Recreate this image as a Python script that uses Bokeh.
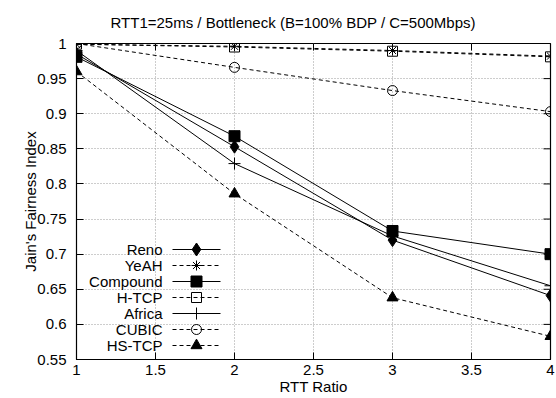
from bokeh.plotting import figure
from bokeh.models import Range1d, FixedTicker
from bokeh.embed import file_html
from bokeh.resources import INLINE
from bokeh.core.properties import value

# ---- data ----
rtt_ratio = [1, 2, 3, 4]
reno = [0.985, 0.853, 0.720, 0.641]
yeah = [0.999, 0.996, 0.990, 0.982]
compound = [0.981, 0.868, 0.733, 0.700]
htcp = [0.999, 0.995, 0.989, 0.981]
africa = [0.990, 0.829, 0.726, 0.655]
cubic = [1.000, 0.966, 0.933, 0.903]
hstcp = [0.960, 0.786, 0.638, 0.583]

series_names = ["Reno", "YeAH", "Compound", "H-TCP", "Africa", "CUBIC", "HS-TCP"]

x_ticks = [1, 1.5, 2, 2.5, 3, 3.5, 4]
x_tick_labels = ["1", "1.5", "2", "2.5", "3", "3.5", "4"]
y_ticks = [0.55, 0.6, 0.65, 0.7, 0.75, 0.8, 0.85, 0.9, 0.95, 1.0]
y_tick_labels = ["0.55", "0.6", "0.65", "0.7", "0.75", "0.8", "0.85", "0.9", "0.95", "1"]

title_text = "RTT1=25ms / Bottleneck (B=100% BDP / C=500Mbps)"
x_label = "RTT Ratio"
y_label = "Jain's Fairness Index"

FONT = "Liberation Sans"
FS = "15px"

# style per series: (dash, marker, filled, size)
styles = {
    "Reno": ("solid", "diamond", True, 13),
    "YeAH": ("4 3", "asterisk", False, 10),
    "Compound": ("solid", "square", True, 11),
    "H-TCP": ("4 3", "square", False, 10),
    "Africa": ("solid", "cross", False, 12),
    "CUBIC": ("4 3", "circle", False, 10),
    "HS-TCP": ("4 3", "triangle", True, 11),
}
values = {"Reno": reno, "YeAH": yeah, "Compound": compound, "H-TCP": htcp,
          "Africa": africa, "CUBIC": cubic, "HS-TCP": hstcp}

XMIN, XMAX, YMIN, YMAX = 1, 4, 0.55, 1.0
W, H = 556, 398
BL, BR, BT, BB = 76, 6, 43, 39

p = figure(width=W, height=H, output_backend="svg", toolbar_location=None,
           x_range=Range1d(XMIN, XMAX), y_range=Range1d(YMIN, YMAX),
           min_border_left=BL, min_border_right=BR, min_border_top=BT, min_border_bottom=BB,
           title=title_text)
p.title.align = "left"
p.title.offset = 34
p.title.vertical_align = "top"
p.title.standoff = 22
p.title.text_font = FONT
p.title.text_font_size = FS
p.title.text_font_style = "normal"
p.title.text_color = "black"

p.outline_line_color = "black"
p.outline_line_width = 1.2
p.background_fill_color = "white"
p.border_fill_color = "white"

frame_w = W - BL - BR
frame_h = H - BT - BB
def px_to_x(px):
    return XMIN + (px - BL) / frame_w * (XMAX - XMIN)
def py_to_y(py):
    return YMAX - (py - BT) / frame_h * (YMAX - YMIN)

xt = FixedTicker(ticks=x_ticks)
yt = FixedTicker(ticks=y_ticks)

main_axes = list(p.below) + list(p.left)
for ax in p.below:
    ax.ticker = xt
    ax.major_label_overrides = {t: l for t, l in zip(x_ticks, x_tick_labels)}
    ax.axis_label = x_label
    ax.axis_label_standoff = 0
    ax.major_label_standoff = 5
for ax in p.left:
    ax.ticker = yt
    ax.major_label_overrides = {t: l for t, l in zip(y_ticks, y_tick_labels)}
    ax.axis_label = y_label
    ax.axis_label_standoff = -5
    ax.major_label_standoff = 10

for ax in main_axes:
    ax.major_tick_in = 7
    ax.major_tick_out = 0
    ax.minor_tick_in = 0
    ax.minor_tick_out = 0
    ax.axis_line_color = "black"
    ax.major_tick_line_color = "black"
    ax.major_label_text_font = FONT
    ax.major_label_text_font_size = FS
    ax.major_label_text_color = "black"
    ax.axis_label_text_font = FONT
    ax.axis_label_text_font_size = FS
    ax.axis_label_text_font_style = "normal"
    ax.axis_label_text_color = "black"

for g, t in ((p.xgrid, xt), (p.ygrid, yt)):
    g.ticker = t
    g.grid_line_color = "#9a9a9a"
    g.grid_line_dash = "1 2"
    g.grid_line_width = 1

# mirrored tick marks on top and right borders (inward)
TICK = 7
dx = TICK / frame_w * (XMAX - XMIN)
dy = TICK / frame_h * (YMAX - YMIN)
p.segment(x0=x_ticks, y0=[YMAX] * len(x_ticks), x1=x_ticks, y1=[YMAX - dy] * len(x_ticks),
          line_color="black", line_width=1)
p.segment(x0=[XMAX] * len(y_ticks), y0=y_ticks, x1=[XMAX - dx] * len(y_ticks), y1=y_ticks,
          line_color="black", line_width=1)

# ---- series ----
for name in series_names:
    dash, marker, filled, size = styles[name]
    ys = values[name]
    p.line(rtt_ratio, ys, line_color="black", line_width=1, line_dash=dash)
    p.scatter(rtt_ratio, ys, marker=marker, size=size, line_color="black",
              fill_color="black" if filled else None, line_width=1)

# ---- legend (label, then sample) ----
text_px, l0_px, l1_px = 162, 172, 220
m_px = (l0_px + l1_px) / 2
row0, row_step = 249, 16
for i, name in enumerate(series_names):
    dash, marker, filled, size = styles[name]
    yy = py_to_y(row0 + i * row_step)
    p.text(x=[px_to_x(text_px)], y=[yy], text=[name], text_align="right",
           text_baseline="middle", text_font=value(FONT), text_font_size=FS,
           text_color="black")
    p.line([px_to_x(l0_px), px_to_x(l1_px)], [yy, yy], line_color="black",
           line_width=1, line_dash=dash)
    p.scatter([px_to_x(m_px)], [yy], marker=marker, size=size, line_color="black",
              fill_color="black" if filled else None, line_width=1)

open("out.html", "w").write(file_html(p, INLINE))
